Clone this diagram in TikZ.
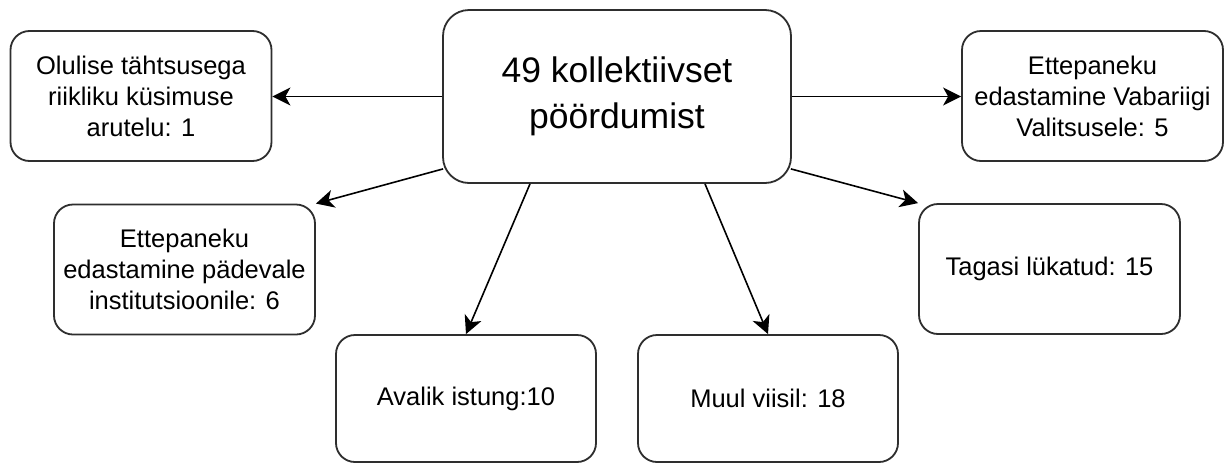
\documentclass[tikz,border=0pt]{standalone}
\usepackage{fontspec}
\setmainfont{Liberation Sans}
\usetikzlibrary{arrows.meta,calc}
\definecolor{boxcol}{HTML}{2E2E2E}
\begin{document}
\begin{tikzpicture}[x=1pt,y=-1pt,
  box/.style={draw=boxcol, line width=1.8pt, rounded corners=19pt, fill=white, align=center, inner sep=0pt, minimum width=261pt, minimum height=130pt, font=\fontsize{25.5}{31}\selectfont},
  big/.style={box, rounded corners=26pt, minimum width=348pt, minimum height=173pt, font=\fontsize{35.5}{46}\selectfont},
  arr/.style={-{Stealth[length=18pt,width=18pt,inset=5pt]}, line width=1.6pt, black}]
\useasboundingbox[fill=white] (0,0) rectangle (1227,464);

\node[big] (C) at (617,96.5) {49 kollektiivset\\pöördumist};
\node[box] (TL) at (141,96) {Olulise tähtsusega\\riikliku küsimuse\\arutelu: 1};
\node[box] (TR) at (1092.5,96) {Ettepaneku\\edastamine Vabariigi\\Valitsusele: 5};
\node[box] (ML) at (184.5,269.5) {Ettepaneku\\edastamine pädevale\\institutsioonile: 6};
\node[box] (MR) at (1049.5,269) {Tagasi lükatud: 15};
\node[box, minimum width=260pt, minimum height=127pt] (BL) at (466,398.5) {Avalik istung:10};
\node[box, minimum width=260pt, minimum height=127pt] (BR) at (768,398.5) {Muul viisil: 18};

\draw[arr] (C.west) -- (C.west -| TL.east);
\draw[arr] (C.east) -- (C.east -| TR.west);
\draw[arr] ($(C.south west)+(1,-15)$) -- (ML.north east);
\draw[arr] ($(C.south east)+(-1,-15)$) -- (MR.north west);
\draw[arr] ($(C.south)+(-87,0)$) -- (BL.north);
\draw[arr] ($(C.south)+(88,0)$) -- (BR.north);
\end{tikzpicture}
\end{document}
